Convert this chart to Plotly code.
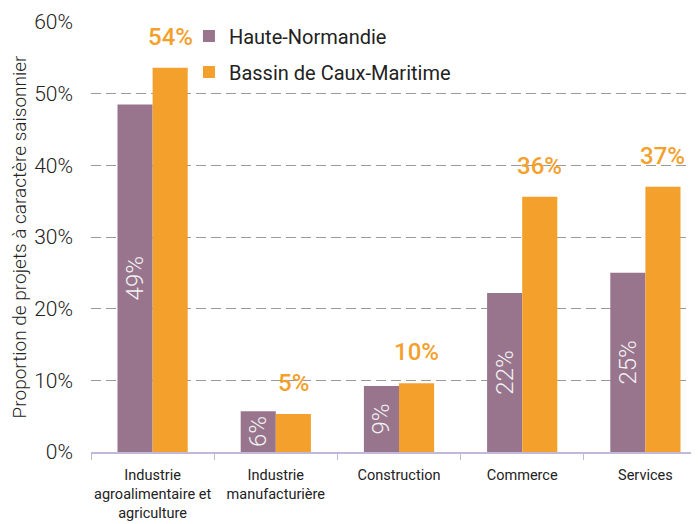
import plotly.graph_objects as go

categories = ["Industrie<br>agroalimentaire et<br>agriculture", "Industrie<br>manufacturière",
              "Construction", "Commerce", "Services"]
haute_normandie = [48.5, 5.7, 9.2, 22.2, 25.0]
bassin_caux = [53.6, 5.3, 9.6, 35.6, 37.0]
hn_labels = ["49%", "6%", "9%", "22%", "25%"]
bc_labels = ["54%", "5%", "10%", "36%", "37%"]
y_ticks = [0, 10, 20, 30, 40, 50, 60]
y_tick_labels = ["0%", "10%", "20%", "30%", "40%", "50%", "60%"]

PURPLE = "#98758D"
ORANGE = "#F4A02C"
FONT = "Roboto"
NARROW = "Liberation Sans Narrow, Roboto"

fig = go.Figure()
fig.add_trace(go.Bar(
    x=categories, y=haute_normandie, name="Haute-Normandie", legendgroup="hn",
    marker=dict(color=PURPLE, line=dict(width=0)),
    text=hn_labels, textposition="inside", insidetextanchor="middle",
    textangle=-90, textfont=dict(color="#f2f2f2", size=24, family=FONT, weight=300),
    cliponaxis=False,
))
fig.add_trace(go.Bar(
    x=categories, y=bassin_caux, name="Bassin de Caux-Maritime", legendgroup="bc",
    marker=dict(color=ORANGE, line=dict(width=0)),
))

for cat, v, lab in zip(categories, bassin_caux, bc_labels):
    fig.add_annotation(x=cat, y=v, text=lab, showarrow=False, xref="x", yref="y",
                       xshift=17.5, yshift=15, yanchor="bottom",
                       font=dict(color=ORANGE, size=24, family=FONT, weight=500))

fig.update_layout(
    width=699, height=524,
    margin=dict(l=83, r=0, t=14, b=80),
    barmode="group", bargap=0.43, bargroupgap=0,
    plot_bgcolor="white", paper_bgcolor="white",
    font=dict(family=FONT, color="#222"),
    showlegend=True,
    legend=dict(x=0.159, y=1.013, xanchor="left", yanchor="top",
                bgcolor="white", font=dict(size=20, color="#222", family=NARROW),
                itemsizing="constant", tracegroupgap=7, itemwidth=30,
                borderwidth=0),
)
fig.update_yaxes(
    range=[0, 60], tickvals=y_ticks, ticktext=y_tick_labels,
    showgrid=True, gridcolor="#9a9a9a", griddash="10px,5px", gridwidth=1,
    zeroline=False, showline=False, automargin=False,
    tickfont=dict(size=21, color="#222", family=FONT, weight=300),
    ticklabelstandoff=17,
    title=dict(text="Proportion de projets à caractère saisonnier",
               font=dict(size=19, color="#222", family=FONT, weight=300), standoff=18),
)
fig.update_xaxes(
    range=[-0.5, 4.5], automargin=False, tickangle=0,
    showline=True, linecolor="#c2b8dc", linewidth=1.5,
    ticks="outside", tickson="boundaries", ticklen=6, tickcolor="#c2b8dc",
    tickfont=dict(size=14.5, color="#222", family=FONT),
    ticklabelstandoff=9,
)

fig.write_html("out.html")
